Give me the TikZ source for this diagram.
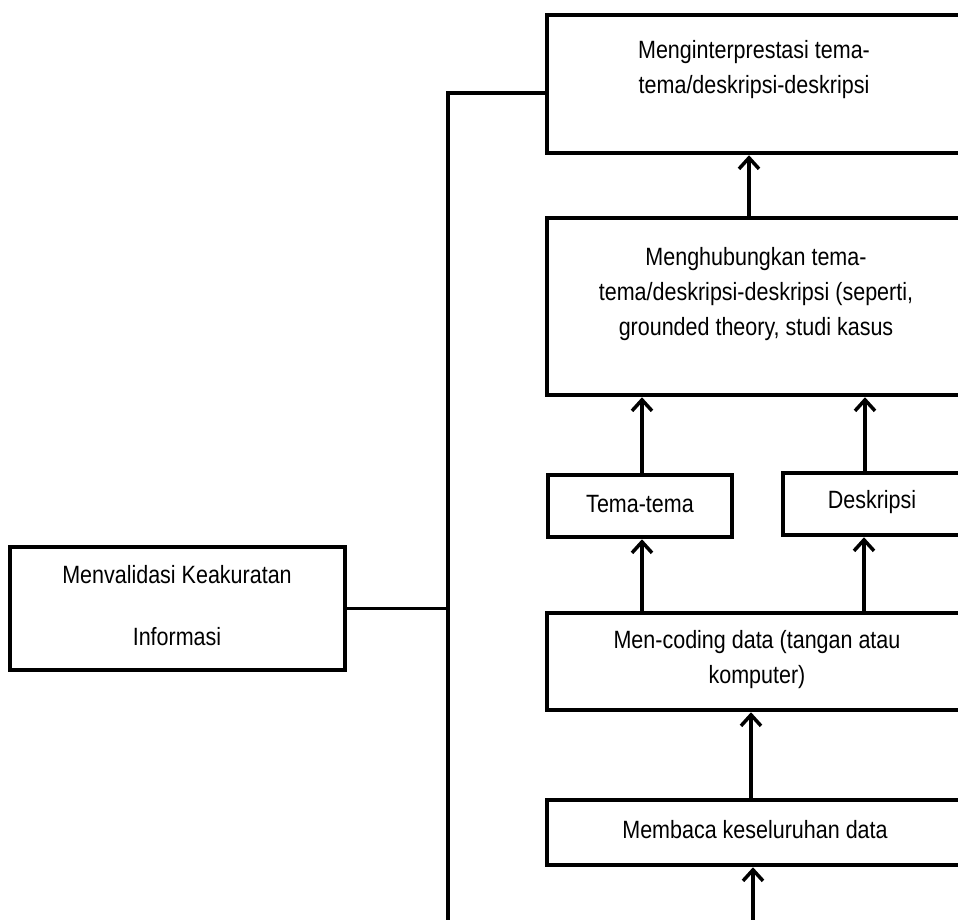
\documentclass[tikz,border=0pt]{standalone}
\usepackage{fontspec}
\setmainfont{Liberation Sans}[FakeStretch=0.86]
\usetikzlibrary{arrows.meta}
\begin{document}
\begin{tikzpicture}[x=1pt,y=-1pt,
  box/.style={draw=black,line width=4.5pt,fill=white,inner sep=0pt},
  txt/.style={align=center,inner sep=0pt,font=\fontsize{25}{35}\selectfont},
  conn/.style={line width=3.5pt},
  arr/.style={line width=3.5pt,-{Straight Barb[length=11pt,width=20pt,line width=3.5pt]}}]
\useasboundingbox (0,0) rectangle (958,920);
\clip (0,0) rectangle (958,920);
% boxes
\node[box,minimum width=420pt,minimum height=138pt] (interp) at (757,84) {};
\node[box,minimum width=420pt,minimum height=177pt] (hub) at (757,306.5) {};
\node[box,minimum width=184pt,minimum height=62pt] (tema) at (640,506) {};
\node[box,minimum width=182pt,minimum height=62pt] (desk) at (874,504) {};
\node[box,minimum width=420pt,minimum height=97pt] (coding) at (757,661.5) {};
\node[box,minimum width=420pt,minimum height=65pt] (baca) at (757,832.5) {};
\node[box,minimum width=335pt,minimum height=123pt] (valid) at (177.5,608.5) {};
% texts
\node[txt] (tinterp) at (754,70) {Menginterprestasi tema-\\tema/deskripsi-deskripsi};
\node[txt] (thub) at (756,294) {Menghubungkan tema-\\tema/deskripsi-deskripsi (seperti,\\grounded theory, studi kasus};
\node[txt] (ttema) at (640,504) {Tema-tema};
\node[txt] (tdesk) at (872,502) {Deskripsi};
\node[txt] (tcoding) at (757,660) {Men-coding data (tangan atau\\komputer)};
\node[txt] (tbaca) at (755,830) {Membaca keseluruhan data};
\node[txt,font=\fontsize{25}{62}\selectfont] (tvalid) at (177,606) {Menvalidasi Keakuratan\\Informasi};
% connectors
\coordinate (vt) at (448,93);
\coordinate (vb) at (448,925);
\coordinate (bin) at (753,925);
\draw[conn] (vb) -- (vt) -- (interp.west |- vt);
\draw[conn] (valid.east) -- (valid.east -| vt);
\draw[arr] (bin) -- (bin |- baca.south);
\draw[arr] (baca.north -| 751,0) -- (coding.south -| 751,0);
\draw[arr] (coding.north -| 642,0) -- (tema.south -| 642,0);
\draw[arr] (coding.north -| 864,0) -- (desk.south -| 864,0);
\draw[arr] (tema.north -| 642,0) -- (hub.south -| 642,0);
\draw[arr] (desk.north -| 865,0) -- (hub.south -| 865,0);
\draw[arr] (hub.north -| 749,0) -- (interp.south -| 749,0);
\end{tikzpicture}
\end{document}
